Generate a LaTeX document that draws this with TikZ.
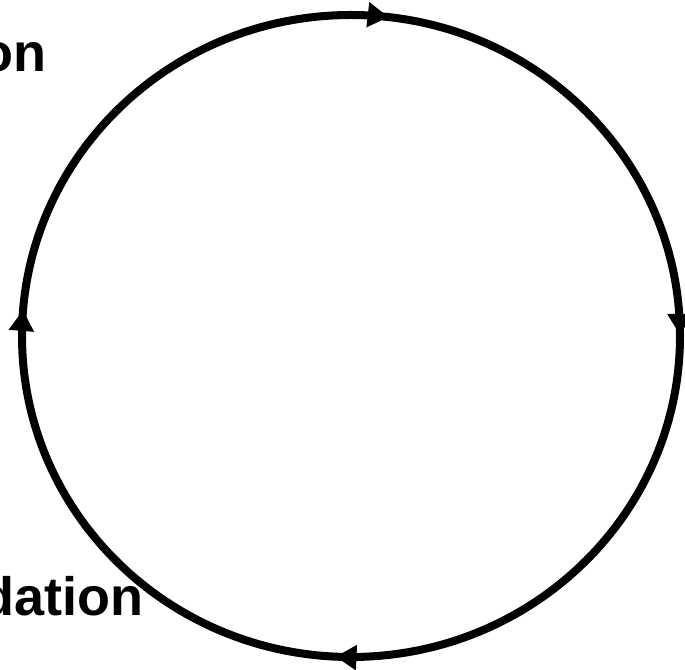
\documentclass[tikz,border=0pt]{standalone}
\usepackage{fontspec}
\setmainfont{Liberation Sans}
\usetikzlibrary{arrows.meta,decorations.markings}
\tikzset{
  lbl/.style={inner sep=0pt, font=\bfseries\fontsize{54}{60}\selectfont},
  ring/.style={line width=8pt, draw=black},
  tipmark/.style={-{Triangle[length=20pt,width=23pt]}}
}
\begin{document}
\begin{tikzpicture}[x=1pt,y=1pt]
\useasboundingbox (0,0) rectangle (685,669);
\coordinate (c) at (351,333);
\draw[ring, postaction={decorate}, decoration={markings,
    mark=at position 0.0185 with {\arrow{Triangle[length=21pt,width=24pt]}},
    mark=at position 0.2495 with {\arrow{Triangle[length=21pt,width=24pt]}},
    mark=at position 0.5076 with {\arrow{Triangle[length=21pt,width=24pt]}},
    mark=at position 0.7628 with {\arrow{Triangle[length=21pt,width=24pt]}}}]
  (c) ++(0,321) arc[start angle=90, end angle=-270, x radius=329, y radius=321];
\node[lbl, anchor=base east] (t1) at (47,597) {on};
\node[lbl, anchor=base east] (t2) at (144,53) {dation};
\end{tikzpicture}
\end{document}
